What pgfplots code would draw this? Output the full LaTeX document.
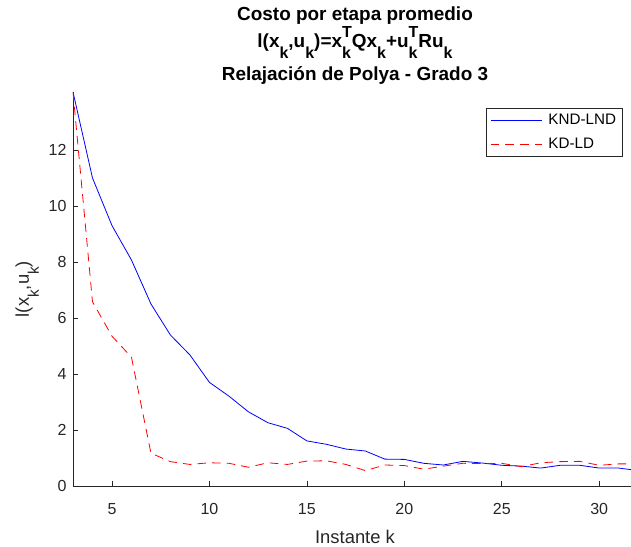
\documentclass[border=0pt]{standalone}
\usepackage{fontspec}
\setmainfont{Liberation Sans}
\usepackage{pgfplots}
\pgfplotsset{compat=1.18}
\definecolor{axgray}{rgb}{0.15,0.15,0.15}
% title sub/superscripts
\newcommand{\tsub}[1]{\raisebox{-8.25pt}{\fontsize{12}{12}\selectfont #1}}
\newcommand{\tsupsub}[2]{\rlap{\raisebox{-8.25pt}{\fontsize{12}{12}\selectfont #1}}\raisebox{7.5pt}{\fontsize{12}{12}\selectfont #2}}
% ylabel subscripts
\newcommand{\lsub}[1]{\raisebox{-7.5pt}{\fontsize{11.5}{11.5}\selectfont #1}}
\pgfplotstableread{
k v
3 14.07
4 11.0
5 9.3
6 8.07
7 6.5
8 5.39
9 4.68
10 3.70
11 3.21
12 2.65
13 2.26
14 2.06
15 1.61
16 1.49
17 1.32
18 1.25
19 0.96
20 0.95
21 0.81
22 0.75
23 0.88
24 0.82
25 0.74
26 0.71
27 0.64
28 0.74
29 0.74
30 0.64
31 0.64
32 0.55
}\kndlnd
\pgfplotstableread{
k v
3 14.07
4 6.58
5 5.35
6 4.6
7 1.17
8 0.87
9 0.77
10 0.83
11 0.81
12 0.67
13 0.83
14 0.77
15 0.89
16 0.9
17 0.77
18 0.55
19 0.75
20 0.73
21 0.6
22 0.71
23 0.81
24 0.8
25 0.81
26 0.69
27 0.83
28 0.87
29 0.88
30 0.74
31 0.79
32 0.79
}\kdld
\begin{document}
\begin{tikzpicture}
\useasboundingbox (-54.75pt,-45pt) rectangle (418.5pt,364.5pt);
\begin{axis}[
  at={(0,0)}, anchor=south west,
  scale only axis, width=418.5pt, height=295.5pt,
  xmin=3, xmax=31.63, ymin=0, ymax=14.07,
  axis x line*=bottom, axis y line*=left,
  axis line style={axgray, line width=0.5pt, -},
  tick align=inside, major tick length=3.5pt,
  every tick/.style={axgray, line width=0.5pt},
  xtick={5,10,...,30}, ytick={0,2,...,12},
  /pgf/number format/assume math mode=true,
  ticklabel style={font=\fontsize{12}{14}\selectfont, text=axgray, inner sep=0pt},
  xticklabel style={anchor=north, yshift=-12.75pt},
  yticklabel style={anchor=east, xshift=-4.7pt},
  xlabel={Instante k},
  xlabel style={at={(axis description cs:0.5054,0)}, anchor=center, yshift=-38.3pt,
    font=\fontsize{13.8}{16}\selectfont, text=axgray},
  ylabel={l(x\lsub{k},u\lsub{k})},
  ylabel style={at={(axis description cs:-0.082,0.5)}, anchor=center, rotate=0,
    font=\fontsize{13.8}{16}\selectfont, text=axgray},
  title={Costo por etapa promedio\\l(x\tsub{k},u\tsub{k})=x\tsupsub{k}{T}Qx\tsub{k}+u\tsupsub{k}{T}Ru\tsub{k}\\[5.2pt]Relajación de Polya - Grado 3},
  title style={at={(axis description cs:0.5054,1)}, anchor=south, yshift=-0.8pt,
    align=center, inner sep=0pt, font=\fontsize{14.2}{20.1}\selectfont\bfseries},
  legend style={at={(axis description cs:0.9857,0.9594)}, anchor=north east,
    draw=axgray, line width=0.5pt, fill=white,
    inner xsep=3.3pt, inner ysep=2.4pt, column sep=2.6pt, row sep=4.6pt,
    font=\fontsize{11.4}{13}\selectfont,
    nodes={inner xsep=1.7pt, inner ysep=2pt}},
  legend cell align=left,
  legend image code/.code={\draw[#1] (0pt,0pt) -- (38.7pt,0pt);},
]
\addplot[blue, line width=0.6pt] table[x=k, y=v] {\kndlnd};
\addlegendentry{KND-LND}
\addplot[red, line width=0.6pt, dash pattern=on 6.5pt off 4.5pt] table[x=k, y=v] {\kdld};
\addlegendentry{KD-LD}
\end{axis}
\end{tikzpicture}
\end{document}
